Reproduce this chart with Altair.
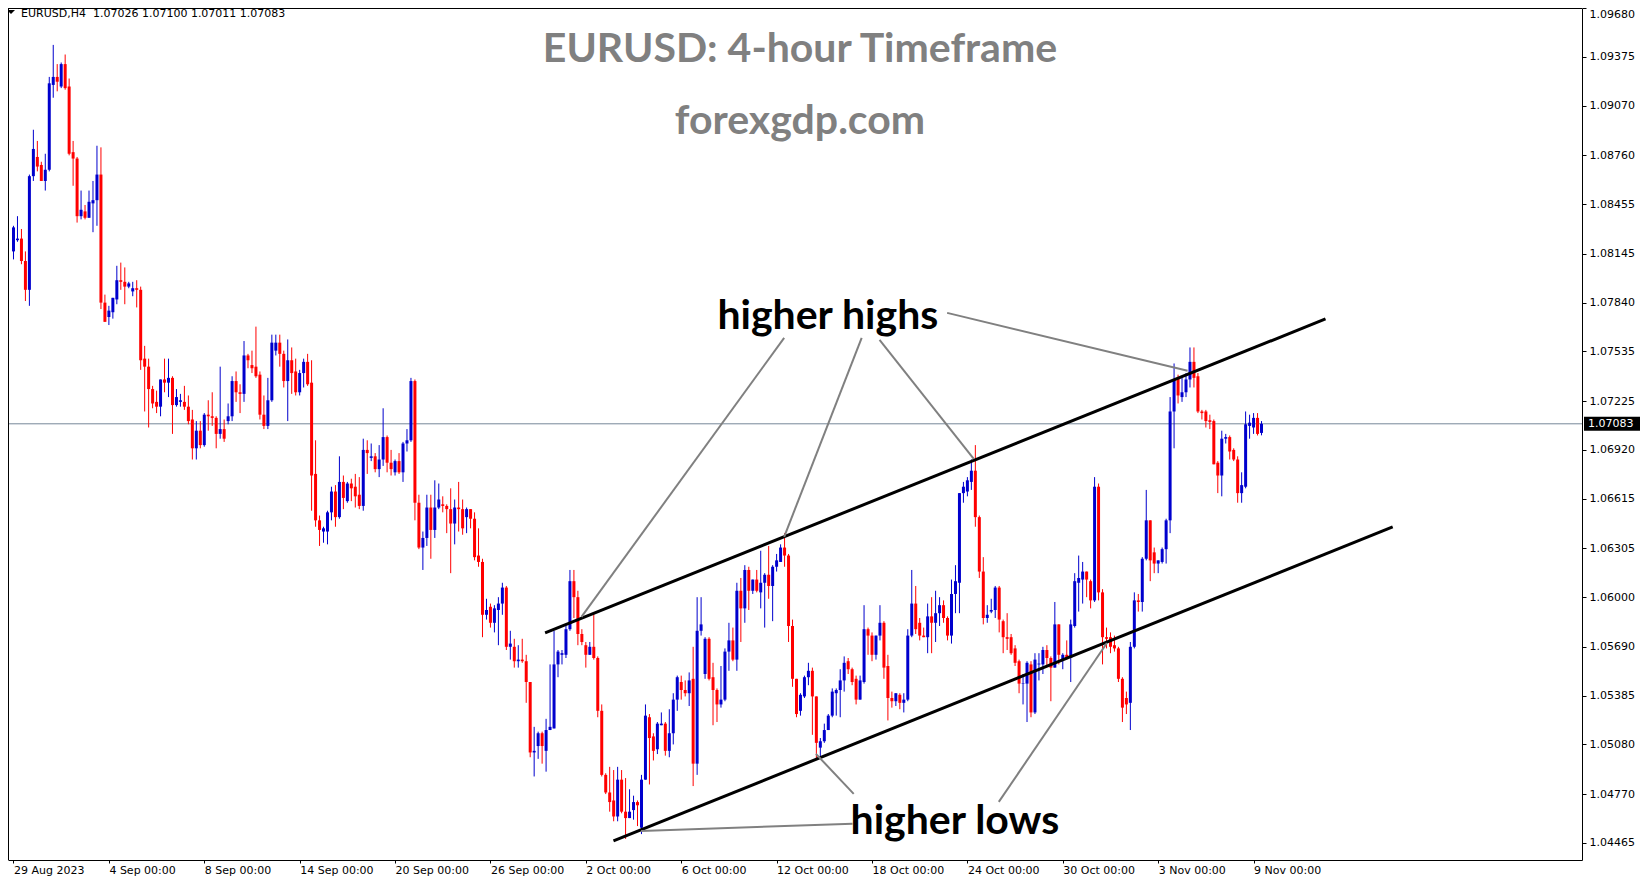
import json
import altair as alt
import pandas as pd

# ---------------- data (prices in pips, i.e. price * 10000) ----------------
OPEN_PIPS = [
10816,10823,10824,10810,10792,10863,10875,10870,10860,10867,10920,10925,10919,10933,10919,10878,10874,10838,10841,10837,
10846,10848,10864,10784,10775,10778,10786,10798,10797,10794,10791,10793,10792,10749,10744,10730,10722,10719,10736,10734,
10737,10720,10722,10722,10719,10711,10693,10704,10695,10714,10713,10712,10702,10705,10710,10713,10735,10728,10727,10751,
10745,10744,10739,10714,10707,10723,10754,10759,10752,10735,10748,10741,10728,10740,10747,10734,10677,10648,10641,10641,
10653,10666,10650,10672,10660,10671,10669,10664,10657,10692,10687,10688,10680,10686,10700,10684,10678,10685,10678,10696,
10698,10735,10659,10631,10637,10656,10642,10656,10658,10657,10655,10646,10656,10655,10650,10655,10649,10626,10622,10589,
10594,10584,10592,10596,10606,10569,10569,10560,10561,10560,10547,10503,10507,10515,10504,10517,10518,10558,10564,10564,
10580,10610,10600,10577,10570,10564,10569,10562,10529,10489,10478,10473,10463,10486,10466,10462,10467,10472,10456,10486,
10525,10513,10505,10520,10521,10504,10515,10536,10547,10542,10540,10549,10496,10579,10552,10574,10550,10542,10533,10536,
10566,10573,10561,10604,10593,10617,10604,10611,10603,10609,10614,10607,10619,10622,10631,10626,10582,10549,10529,10538,
10550,10554,10538,10506,10510,10517,10526,10540,10542,10548,10560,10555,10549,10536,10547,10580,10576,10564,10576,10584,
10557,10537,10535,10539,10534,10536,10576,10596,10584,10576,10575,10588,10584,10590,10595,10587,10576,10602,10609,10665,
10666,10672,10679,10650,10616,10587,10591,10592,10606,10585,10575,10575,10568,10560,10546,10546,10558,10528,10558,10558,
10567,10562,10556,10583,10561,10564,10562,10582,10609,10611,10616,10610,10598,10669,10603,10575,10575,10570,10568,10549,
10537,10534,10569,10598,10597,10624,10648,10628,10621,10622,10630,10648,10716,10737,10725,10728,10736,10747,10738,10716,
10716,10710.5,10710,10684,10676,10699,10700,10692,10686,10665,10669,10707,10706,10712,10702.6]

HIGH_PIPS = [
10832,10838,10830,10816,10864,10892,10885,10872,10877,10925,10945,10933,10934,10939,10924,10885,10875,10854,10845,10854,
10860,10882,10881,10789,10782,10787,10807,10809,10806,10797,10797,10798,10794,10757,10749,10732,10729,10736,10749,10749,
10738,10730,10727,10732,10726,10717,10710,10710,10715,10723,10728,10713,10744,10711,10721,10738,10741,10733,10760,10752,
10754,10769,10741,10726,10737,10764,10764,10764,10754,10761,10756,10749,10742,10749,10752,10748,10698,10651,10644,10654,
10669,10670,10688,10676,10672,10674,10677,10675,10699,10698,10696,10690,10695,10718,10701,10692,10686,10690,10697,10705,
10737,10736,10664,10641,10664,10664,10673,10671,10663,10658,10668,10661,10672,10661,10656,10655,10653,10643,10624,10599,
10596,10595,10600,10609,10607,10579,10574,10570,10574,10564,10547,10519,10516,10516,10524,10558,10579,10567,10567,10582,
10617,10617,10604,10580,10572,10572,10590,10563,10533,10490,10494,10492,10494,10492,10487,10480,10476,10473,10489,10533,
10527,10515,10522,10528,10522,10530,10540,10551,10551,10548,10553,10569,10600,10600,10575,10575,10559,10543,10557,10568,
10584,10581,10609,10612,10620,10619,10611,10617,10629,10615,10632,10620,10627,10633,10640,10627,10586,10549,10540,10551,
10559,10556,10538,10512,10521,10527,10543,10543,10555,10563,10562,10556,10551,10551,10595,10581,10578,10576,10595,10585,
10564,10541,10540,10540,10540,10580,10617,10607,10587,10581,10596,10600,10604,10600,10598,10588,10611,10620,10665,10672,
10675,10686,10695,10651,10625,10595,10599,10607,10607,10586,10590,10577,10570,10561,10552,10560,10560,10565,10565,10569,
10570,10563,10597,10583,10565,10573,10586,10615,10626,10622,10616,10611,10675,10671,10605,10581,10578,10576,10569,10550,
10541,10572,10603,10602,10625,10667,10648,10631,10623,10631,10649,10725,10746,10739,10737,10740,10756,10756,10740,10717,
10717,10714,10711,10685,10704,10702,10701,10693,10688,10678,10716,10714,10715,10715,10710.0]

LOW_PIPS = [
10811,10822,10808,10785,10782,10860,10866,10860,10854,10866,10912,10916,10918,10917,10876,10857,10834,10836,10836,10837,
10828,10832,10780,10772,10770,10774,10783,10792,10783,10793,10788,10781,10742,10716,10706,10718,10715,10713,10728,10725,
10702,10719,10719,10717,10708,10686,10686,10693,10694,10704,10707,10693,10699,10697,10708,10710,10722,10715,10722,10743,
10740,10737,10711,10705,10705,10722,10751,10744,10731,10710,10727,10726,10726,10731,10732,10654,10644,10632,10634,10633,
10648,10644,10649,10655,10659,10660,10656,10655,10654,10677,10685,10678,10675,10682,10678,10676,10676,10677,10672,10691,
10697,10648,10630,10617,10632,10624,10637,10655,10653,10640,10615,10633,10641,10639,10640,10643,10623,10619,10575,10586,
10581,10578,10570,10589,10567,10561,10556,10556,10559,10534,10500,10488,10499,10496,10491,10517,10518,10550,10558,10562,
10579,10587,10570,10570,10556,10564,10561,10525,10488,10477,10466,10460,10460,10465,10449,10462,10461,10457,10452,10486,
10483,10498,10502,10520,10501,10500,10508,10529,10536,10538,10532,10482,10489,10576,10549,10548,10520,10522,10531,10535,
10554,10560,10554,10572,10584,10592,10602,10603,10593,10581,10599,10585,10616,10622,10619,10572,10544,10525,10526,10537,
10545,10514,10499,10499,10509,10517,10525,10526,10525,10541,10552,10545,10533,10536,10546,10564,10560,10561,10573,10549,
10523,10531,10532,10530,10528,10535,10575,10577,10573,10575,10565,10565,10572,10582,10584,10573,10571,10590,10590,10659,
10663,10667,10644,10612,10583,10584,10590,10587,10578,10565,10567,10564,10557,10540,10533,10522,10525,10527,10548,10552,
10557,10535,10556,10558,10555,10561,10547,10581,10591,10596,10600,10593,10597,10598,10558,10568,10565,10566,10547,10522,
10527,10517,10568,10591,10591,10623,10610,10615,10615,10621,10621,10640,10693,10721,10722,10725,10731,10731,10715,10711,
10706,10705,10683,10665,10663,10696,10686,10685,10659,10659,10668,10699,10702,10701,10701.1]

CLOSE_PIPS = [
10831,10824,10810,10792,10863,10880,10869,10860,10867,10921,10925,10922,10933,10918,10877,10874,10838,10842,10837,10847,
10848,10864,10784,10772,10779,10787,10798,10797,10794,10796,10793,10792,10748,10744,10730,10721,10719,10736,10734,10737,
10720,10725,10723,10719,10710,10693,10704,10695,10714,10713,10712,10702,10705,10699,10713,10735,10728,10727,10751,10748,
10743,10738,10714,10707,10723,10759,10759,10752,10735,10748,10740,10728,10740,10747,10733,10676,10648,10642,10643,10653,
10666,10650,10672,10662,10671,10668,10663,10657,10692,10690,10688,10680,10686,10700,10684,10680,10685,10678,10696,10698,
10735,10659,10631,10637,10656,10642,10656,10661,10657,10655,10646,10656,10655,10643,10655,10649,10625,10622,10589,10592,
10584,10593,10596,10606,10569,10571,10560,10561,10560,10547,10503,10504,10515,10507,10517,10519,10558,10566,10565,10580,
10610,10600,10577,10572,10564,10569,10562,10529,10489,10478,10472,10463,10486,10466,10462,10466,10472,10470,10486,10526,
10512,10504,10521,10521,10504,10515,10536,10550,10542,10540,10548,10496,10579,10583,10574,10549,10542,10533,10536,10566,
10573,10561,10604,10593,10617,10604,10611,10604,10609,10614,10607,10619,10623,10631,10626,10582,10549,10527,10539,10550,
10554,10538,10509,10510,10517,10526,10541,10542,10548,10559,10555,10547,10536,10548,10580,10576,10564,10576,10584,10556,
10537,10535,10540,10534,10536,10576,10596,10580,10576,10575,10588,10584,10590,10595,10587,10576,10602,10610,10665,10669,
10673,10679,10650,10616,10587,10589,10592,10606,10586,10575,10574,10565,10559,10546,10546.3,10559,10528,10561,10558.5,10567,
10562,10556,10583,10564,10564,10562,10583,10610,10612,10616,10611,10598,10669,10603,10575,10574,10569,10568,10549,10531,
10533,10569,10598,10597,10624,10648,10623,10621,10623,10630,10648,10716,10736,10726,10728,10736,10747,10737,10716,10715,
10710,10709.5,10683,10676,10699,10700,10691,10686,10665,10670,10708,10709,10712,10702,10708.3]

X_TICK_BARS = [0, 24, 48, 72, 96, 120, 144, 168, 192, 216, 240, 264, 288, 312]
X_LABELS = ["29 Aug 2023", "4 Sep 00:00", "8 Sep 00:00", "14 Sep 00:00", "20 Sep 00:00",
            "26 Sep 00:00", "2 Oct 00:00", "6 Oct 00:00", "12 Oct 00:00", "18 Oct 00:00",
            "24 Oct 00:00", "30 Oct 00:00", "3 Nov 00:00", "9 Nov 00:00"]
Y_TICKS = [1.09680, 1.09375, 1.09070, 1.08760, 1.08455, 1.08145, 1.07840, 1.07535, 1.07225,
           1.06920, 1.06615, 1.06305, 1.06000, 1.05690, 1.05385, 1.05080, 1.04770, 1.04465]
BID = 1.07083
SYMBOL = "EURUSD,H4"
TITLE = "EURUSD: 4-hour Timeframe"
SUBTITLE = "forexgdp.com"

# channel lines (bar index, price)
TREND_X1 = [133.75, 150.95]
TREND_Y1 = [1.05777, 1.04477]
TREND_X2 = [330.1, 347.0]
TREND_Y2 = [1.07738, 1.06439]

# pointer lines from the annotations
PTR_X1 = [193.9, 213.4, 217.9, 234.9, 157.9, 201.9, 247.9]
PTR_Y1 = [1.07620, 1.07620, 1.07607, 1.07776, 1.04540, 1.05021, 1.04721]
PTR_X2 = [142.9, 193.9, 241.6, 295.4, 211.1, 211.4, 275.1]
PTR_Y2 = [1.05877, 1.06377, 1.06864, 1.07414, 1.04584, 1.04771, 1.05714]

ANN_TEXT = ["higher highs", "higher lows"]
ANN_X = [177.1, 210.6]
ANN_Y = [1.07676, 1.04521]

# ---------------- layout ----------------
W, H = 1574, 852
PX_PER_PRICE = 16008.0
Y_TOP = 1.096805
xs = alt.Scale(domain=[-0.125, -0.125 + W / 4.0], nice=False, zero=False)
ys = alt.Scale(domain=[Y_TOP - H / PX_PER_PRICE, Y_TOP], nice=False, zero=False)

df = pd.DataFrame({
    "i": list(range(len(OPEN_PIPS))),
    "open": [v / 1e4 for v in OPEN_PIPS],
    "high": [v / 1e4 for v in HIGH_PIPS],
    "low": [v / 1e4 for v in LOW_PIPS],
    "close": [v / 1e4 for v in CLOSE_PIPS],
})
df["dir"] = ["up" if c >= o else "down" for o, c in zip(df["open"], df["close"])]

color = alt.Color("dir:N", scale=alt.Scale(domain=["up", "down"], range=["#0000cd", "#ff0000"]), legend=None)

label_expr = json.dumps(X_LABELS) + "[round(datum.value / 24)]"
xaxis = alt.Axis(values=X_TICK_BARS, labelExpr=label_expr, title=None, grid=False,
                 domainColor="black", tickColor="black", tickSize=3, labelAlign="left",
                 labelBaseline="top", labelPadding=1, labelFont="DejaVu Sans", labelFontSize=11,
                 labelColor="black", labelFlush=False, labelOverlap=False)
yaxis = alt.Axis(orient="right", values=Y_TICKS, format=".5f", title=None, grid=False,
                 domainColor="black", tickColor="black", tickSize=4, labelPadding=3,
                 labelFont="DejaVu Sans", labelFontSize=11, labelColor="black",
                 labelFlush=False, labelOverlap=False,
                 labelBaseline={"condition": {"test": "datum.value > 1.0967", "value": "top"},
                                "value": "middle"})


def X(field):
    return alt.X(field, scale=xs, axis=xaxis)


def Y(field):
    return alt.Y(field, scale=ys, axis=yaxis)


base = alt.Chart(df)

bid_df = pd.DataFrame({"p": [BID], "lab": ["%.5f" % BID],
                       "top": [BID + 7 / PX_PER_PRICE], "bot": [BID - 7 / PX_PER_PRICE]})
bid_line = alt.Chart(bid_df).mark_rule(color="#778899", strokeWidth=1).encode(y=Y("p:Q"))

wicks = base.mark_rule(strokeWidth=1).encode(
    x=X("i:Q"), y=Y("low:Q"), y2="high:Q", color=color)

bodies = base.mark_bar(size=3, orient="vertical").encode(
    x=X("i:Q"), y=Y("open:Q"), y2="close:Q", color=color)

trend_df = pd.DataFrame({"x1": TREND_X1, "y1": TREND_Y1, "x2": TREND_X2, "y2": TREND_Y2})
trends = alt.Chart(trend_df).mark_rule(color="black", strokeWidth=3).encode(
    x=X("x1:Q"), x2="x2:Q", y=Y("y1:Q"), y2="y2:Q")

ptr_df = pd.DataFrame({"x1": PTR_X1, "y1": PTR_Y1, "x2": PTR_X2, "y2": PTR_Y2})
pointers = alt.Chart(ptr_df).mark_rule(color="#808080", strokeWidth=2).encode(
    x=X("x1:Q"), x2="x2:Q", y=Y("y1:Q"), y2="y2:Q")

ann_df = pd.DataFrame({"t": ANN_TEXT, "x": ANN_X, "y": ANN_Y})
ann = alt.Chart(ann_df).mark_text(align="left", baseline="alphabetic", font="Lato",
                                  fontWeight="bold", fontSize=41, color="black").encode(
    x=X("x:Q"), y=Y("y:Q"), text="t:N")

title_style = dict(align="center", baseline="alphabetic", font="Lato",
                   fontWeight="bold", fontSize=41, color="#808080")
title_txt = alt.Chart(pd.DataFrame({"t": [TITLE]})).mark_text(**title_style).encode(
    x=alt.value(792), y=alt.value(54), text="t:N")
sub_txt = alt.Chart(pd.DataFrame({"t": [SUBTITLE]})).mark_text(**title_style).encode(
    x=alt.value(792), y=alt.value(126), text="t:N")

bid_box = alt.Chart(bid_df).mark_rect(color="black").encode(
    x=alt.value(W + 2), x2=alt.value(W + 58), y=Y("top:Q"), y2="bot:Q")
bid_text = alt.Chart(bid_df).mark_text(align="left", baseline="middle", color="white",
                                       font="DejaVu Sans", fontSize=11).encode(
    x=alt.value(W + 6), y=Y("p:Q"), text="lab:N")

last = df.iloc[-1]
header = "%s\u00a0\u00a0%.5f %.5f %.5f %.5f" % (SYMBOL, last["open"], last["high"], last["low"], last["close"])
head_df = pd.DataFrame({"t": [header]})
head_text = alt.Chart(head_df).mark_text(align="left", baseline="alphabetic", font="DejaVu Sans",
                                         fontSize=11, color="black").encode(
    x=alt.value(13), y=alt.value(8.5), text="t:N")
head_tri = alt.Chart(head_df).mark_point(shape="M-1,-0.5L1,-0.5L0,0.5Z", size=64, filled=True,
                                         color="black", opacity=1).encode(
    x=alt.value(3), y=alt.value(4))

border_df = pd.DataFrame({"a": [0]})
left_border = alt.Chart(border_df).mark_rule(color="black", strokeWidth=1).encode(
    x=alt.value(0.5), y=alt.value(0), y2=alt.value(H))
top_border = alt.Chart(border_df).mark_rule(color="black", strokeWidth=1).encode(
    x=alt.value(0), x2=alt.value(W), y=alt.value(0.5))

chart = alt.layer(
    bid_line, wicks, bodies, trends, pointers, ann, title_txt, sub_txt, bid_box, bid_text,
    head_text, head_tri, left_border, top_border
).properties(
    width=W, height=H,
    padding={"left": 0, "top": 0, "right": 59, "bottom": 16},
    autosize=alt.AutoSizeParams(type="none"),
    background="white",
).configure_view(stroke=None)

chart.save("out.html", embed_options={"renderer": "svg", "actions": False})
